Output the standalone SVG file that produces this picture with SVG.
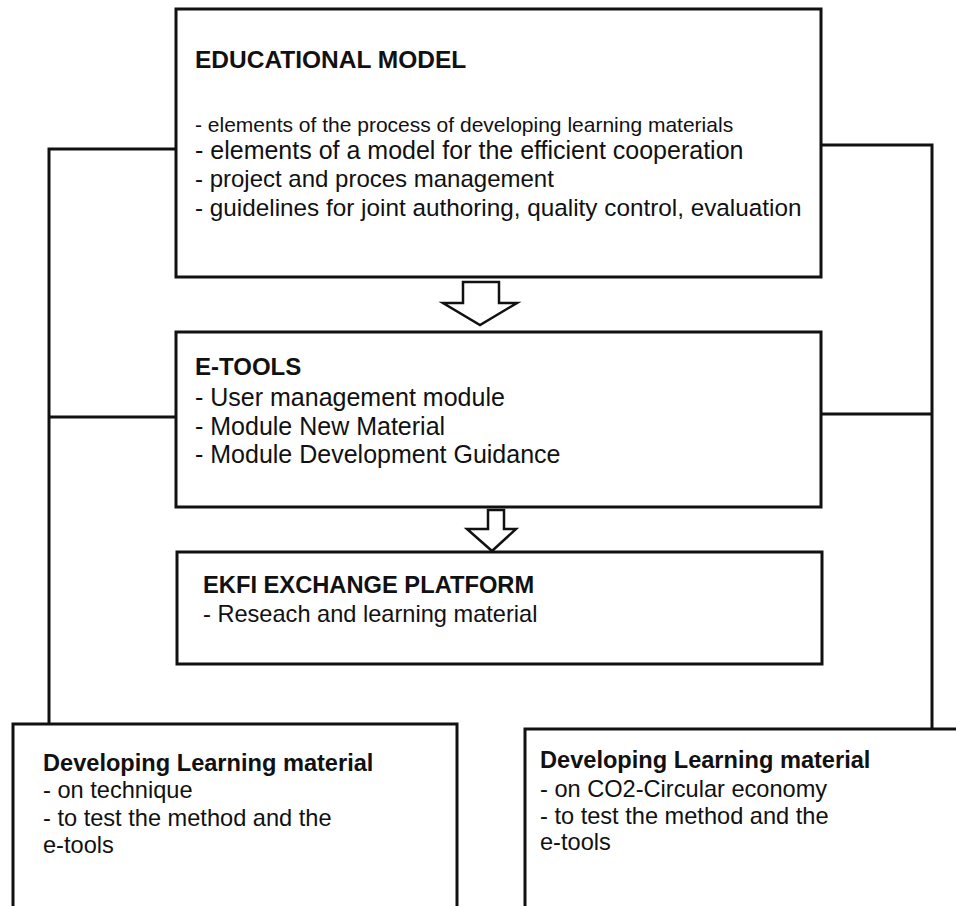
<svg xmlns="http://www.w3.org/2000/svg" width="956" height="906" viewBox="0 0 956 906">
<style>
.box{fill:#fff;stroke:#111;stroke-width:3}
.con{fill:none;stroke:#111;stroke-width:3}
.arr{fill:#fff;stroke:#111;stroke-width:2.5;stroke-linejoin:miter}
text{font-family:"Liberation Sans",Arial,sans-serif;fill:#111}
.b{font-weight:bold}
</style>
<rect width="956" height="906" fill="#fff"/>
<g id="connectors">
<polyline class="con" points="176,149 49,149 49,724"/>
<line class="con" x1="49" y1="417" x2="176" y2="417"/>
<polyline class="con" points="821,145 932,145 932,730"/>
<line class="con" x1="821" y1="414" x2="932" y2="414"/>
<path class="arr" d="M463,282 H499 V303 H517 L480,325 L443,303 H463 Z"/>
<path class="arr" d="M488,510 H504 V529 H516 L492,551 L467,529 H488 Z"/>
</g>
<g id="educational-model">
<rect class="box" x="176" y="9" width="645" height="268"/>
<text class="b" x="195" y="68" font-size="24.5">EDUCATIONAL MODEL</text>
<text x="195" y="132" font-size="21">- elements of the process of developing learning materials</text>
<text x="195" y="159" font-size="25">- elements of a model for the efficient cooperation</text>
<text x="195" y="187" font-size="24">- project and proces management</text>
<text x="195" y="216" font-size="24.3">- guidelines for joint authoring, quality control, evaluation</text>
</g>
<g id="e-tools">
<rect class="box" x="176" y="332" width="645" height="175"/>
<text class="b" x="195" y="375" font-size="24">E-TOOLS</text>
<text x="195" y="406" font-size="25">- User management module</text>
<text x="195" y="435" font-size="25">- Module New Material</text>
<text x="195" y="463" font-size="25">- Module Development Guidance</text>
</g>
<g id="ekfi-platform">
<rect class="box" x="177" y="552" width="645" height="112"/>
<text class="b" x="203" y="593" font-size="23.7">EKFI EXCHANGE PLATFORM</text>
<text x="203" y="622" font-size="23.6">- Reseach and learning material</text>
</g>
<g id="dev-technique">
<rect class="box" x="13" y="724" width="444" height="200"/>
<text class="b" x="43" y="771" font-size="23.6">Developing Learning material</text>
<text x="43" y="798" font-size="23.6">- on technique</text>
<text x="43" y="826" font-size="23.6">- to test the method and the</text>
<text x="43" y="853" font-size="23.6">e-tools</text>
</g>
<g id="dev-co2">
<rect class="box" x="525" y="729" width="450" height="200"/>
<text class="b" x="540" y="768" font-size="23.6">Developing Learning material</text>
<text x="540" y="797" font-size="23.6">- on CO2-Circular economy</text>
<text x="540" y="824" font-size="23.6">- to test the method and the</text>
<text x="540" y="850" font-size="23.6">e-tools</text>
</g>
</svg>
